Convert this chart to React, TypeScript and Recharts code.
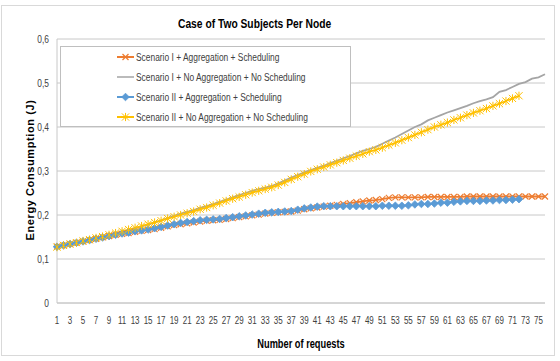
import React from "react";
import {
  LineChart,
  Line,
  XAxis,
  YAxis,
  CartesianGrid,
  Legend,
} from "recharts";

// number of requests 1..76
const requests = Array.from({ length: 76 }, (_, i) => i + 1);

const yTicks = [0, 0.1, 0.2, 0.3, 0.4, 0.5, 0.6];

const s1Agg = [
  0.128, 0.131, 0.134, 0.137, 0.14, 0.143, 0.146, 0.149, 0.152, 0.155,
  0.157, 0.159, 0.162, 0.164, 0.166, 0.168, 0.171, 0.174, 0.177, 0.179,
  0.181, 0.183, 0.185, 0.187, 0.188, 0.189, 0.191, 0.193, 0.195, 0.197,
  0.199, 0.201, 0.203, 0.205, 0.206, 0.207, 0.208, 0.21, 0.213, 0.215,
  0.217, 0.219, 0.221, 0.223, 0.225, 0.227, 0.229, 0.231, 0.233, 0.234,
  0.236, 0.239, 0.24, 0.24, 0.24, 0.24, 0.24, 0.241, 0.241, 0.241,
  0.241, 0.241, 0.241, 0.242, 0.242, 0.242, 0.242, 0.242, 0.242, 0.242,
  0.242, 0.242, 0.242, 0.242, 0.242, 0.242,
];

const s1NoAgg = [
  0.128, 0.131, 0.134, 0.137, 0.14, 0.143, 0.146, 0.149, 0.153, 0.157,
  0.161, 0.165, 0.17, 0.174, 0.178, 0.183, 0.188, 0.193, 0.198, 0.203,
  0.207, 0.211, 0.216, 0.22, 0.225, 0.23, 0.235, 0.24, 0.245, 0.25,
  0.255, 0.259, 0.262, 0.266, 0.272, 0.278, 0.285, 0.291, 0.297, 0.302,
  0.307, 0.312, 0.318, 0.323, 0.329, 0.334, 0.34, 0.346, 0.35, 0.355,
  0.362, 0.369, 0.376, 0.384, 0.392, 0.4, 0.406, 0.415, 0.421, 0.427,
  0.433, 0.438, 0.443, 0.448, 0.454, 0.459, 0.463, 0.468, 0.48, 0.484,
  0.491, 0.498, 0.502, 0.51, 0.513, 0.52,
];

const s2Agg = [
  0.128, 0.131, 0.134, 0.137, 0.14, 0.143, 0.146, 0.149, 0.152, 0.155,
  0.158, 0.16, 0.163, 0.165, 0.167, 0.17, 0.173, 0.176, 0.179, 0.182,
  0.184, 0.186, 0.188, 0.189, 0.19, 0.191, 0.193, 0.195, 0.197, 0.199,
  0.201, 0.203, 0.205, 0.206, 0.207, 0.208, 0.209, 0.212, 0.215, 0.217,
  0.219, 0.22, 0.22, 0.22, 0.22, 0.22, 0.22, 0.22, 0.22, 0.22,
  0.221, 0.221, 0.221, 0.221, 0.222, 0.224, 0.225, 0.225, 0.226, 0.228,
  0.228, 0.23, 0.231, 0.232, 0.232, 0.232, 0.233, 0.233, 0.234, 0.234,
  0.235, 0.236,
];

const s2NoAgg = [
  0.127, 0.131, 0.134, 0.137, 0.141, 0.144, 0.148, 0.151, 0.155, 0.159,
  0.163, 0.167, 0.171, 0.175, 0.179, 0.183, 0.187, 0.192, 0.196, 0.2,
  0.204, 0.208, 0.213, 0.217, 0.222, 0.227, 0.232, 0.237, 0.241, 0.246,
  0.251, 0.255, 0.259, 0.263, 0.268, 0.274, 0.281, 0.287, 0.293, 0.299,
  0.304, 0.309, 0.314, 0.319, 0.324, 0.329, 0.334, 0.339, 0.344, 0.348,
  0.353, 0.359, 0.364, 0.37, 0.376, 0.382, 0.388, 0.394, 0.4, 0.405,
  0.41, 0.416, 0.421, 0.427, 0.432, 0.437, 0.442, 0.448, 0.453, 0.459,
  0.465, 0.471,
];

const ORANGE = "#ED7D31";
const GRAY = "#A5A5A5";
const BLUE = "#5B9BD5";
const YELLOW = "#FFC000";

const data = requests.map((n, i) => ({
  n,
  s1Agg: s1Agg[i] ?? null,
  s1NoAgg: s1NoAgg[i] ?? null,
  s2Agg: s2Agg[i] ?? null,
  s2NoAgg: s2NoAgg[i] ?? null,
}));

const FONT = "'Liberation Sans', Arial, sans-serif";

function CrossMark({ x, y, color }: { x: number; y: number; color: string }) {
  const r = 3;
  return (
    <g stroke={color} strokeWidth={1.2} fill="none">
      <line x1={x - r} y1={y - r} x2={x + r} y2={y + r} />
      <line x1={x - r} y1={y + r} x2={x + r} y2={y - r} />
    </g>
  );
}

function DiamondMark({ x, y, color }: { x: number; y: number; color: string }) {
  const r = 3.8;
  return (
    <path
      d={`M${x},${y - r}L${x + r},${y}L${x},${y + r}L${x - r},${y}Z`}
      fill={color}
      stroke={color}
      strokeWidth={0.8}
    />
  );
}

function StarMark({ x, y, color }: { x: number; y: number; color: string }) {
  const r = 3.6;
  return (
    <g stroke={color} strokeWidth={1} fill="none">
      <line x1={x - r} y1={y - r} x2={x + r} y2={y + r} />
      <line x1={x - r} y1={y + r} x2={x + r} y2={y - r} />
      <line x1={x} y1={y - r - 0.5} x2={x} y2={y + r + 0.5} />
    </g>
  );
}

function makeDot(kind: string, color: string) {
  return (props: any) => {
    const { cx, cy, index } = props;
    if (cx == null || cy == null || props.value == null) return <g key={`d-${kind}-${index}`} />;
    return (
      <g key={`d-${kind}-${index}`}>
        {kind === "x" && <CrossMark x={cx} y={cy} color={color} />}
        {kind === "diamond" && <DiamondMark x={cx} y={cy} color={color} />}
        {kind === "star" && <StarMark x={cx} y={cy} color={color} />}
      </g>
    );
  };
}

// narrow-looking tick text (the original uses a condensed font)
function NarrowTick(props: any) {
  const { x, y, payload, fontSize, anchor, dy, fmt } = props;
  return (
    <g transform={`translate(${x},${y})`}>
      <text
        transform="scale(0.8,1)"
        textAnchor={anchor}
        dy={dy}
        fontSize={fontSize}
        fill="#404040"
        fontFamily={FONT}
      >
        {fmt ? fmt(payload.value) : payload.value}
      </text>
    </g>
  );
}

const legendItems = [
  { label: "Scenario I + Aggregation + Scheduling", color: ORANGE, kind: "x" },
  { label: "Scenario I + No Aggregation + No Scheduling", color: GRAY, kind: "none" },
  { label: "Scenario II + Aggregation + Scheduling", color: BLUE, kind: "diamond" },
  { label: "Scenario II + No Aggregation + No Scheduling", color: YELLOW, kind: "star" },
];

function LegendBox() {
  return (
    <div
      style={{
        width: "100%",
        height: "100%",
        boxSizing: "border-box",
        border: "1px solid #bfbfbf",
        background: "#fff",
        paddingLeft: 56,
        fontFamily: FONT,
        fontSize: 10,
        color: "#404040",
      }}
    >
      {legendItems.map((it) => (
        <div key={it.label} style={{ height: 20, display: "flex", alignItems: "center" }}>
          <svg width={17} height={10} style={{ marginRight: 2, flexShrink: 0 }}>
            <line x1={0} y1={5} x2={17} y2={5} stroke={it.color} strokeWidth={it.kind === "none" ? 1.5 : 2} />
            {it.kind === "x" && <CrossMark x={8.5} y={5} color={it.color} />}
            {it.kind === "diamond" && <DiamondMark x={8.5} y={5} color={it.color} />}
            {it.kind === "star" && <StarMark x={8.5} y={5} color={it.color} />}
          </svg>
          <span
            style={{
              display: "inline-block",
              whiteSpace: "nowrap",
              transform: "scaleX(0.84)",
              transformOrigin: "left center",
            }}
          >
            {it.label}
          </span>
        </div>
      ))}
    </div>
  );
}

const yFmt = (v: number) => String(Math.round(v * 10) / 10).replace(".", ",");

export default function App() {
  return (
    <div
      style={{
        position: "absolute",
        left: 0,
        top: 0,
        width: 560,
        height: 361,
        background: "#fff",
        fontFamily: FONT,
      }}
    >
      <div
        style={{
          position: "absolute",
          left: 1,
          top: 5,
          width: 554,
          height: 351,
          border: "1px solid #d9d9d9",
          boxSizing: "border-box",
        }}
      />
      <div
        style={{
          position: "absolute",
          left: 154,
          top: 16,
          width: 200,
          textAlign: "center",
          fontSize: 13.5,
          fontWeight: "bold",
          color: "#000",
          transform: "scaleX(0.76)",
          whiteSpace: "nowrap",
        }}
      >
        Case of Two Subjects Per Node
      </div>
      <div
        style={{
          position: "absolute",
          left: 30,
          top: 170,
          transform: "translate(-50%, -50%) rotate(-90deg)",
          whiteSpace: "nowrap",
          fontSize: 11,
          fontWeight: "bold",
          letterSpacing: 0.6,
          color: "#000",
        }}
      >
        Energy Consumption (J)
      </div>
      <div
        style={{
          position: "absolute",
          left: 201,
          top: 337,
          width: 200,
          textAlign: "center",
          fontSize: 12.5,
          fontWeight: "bold",
          color: "#000",
          transform: "scaleX(0.74)",
          whiteSpace: "nowrap",
        }}
      >
        Number of requests
      </div>
      <div style={{ position: "absolute", left: 0, top: 0 }}>
        <LineChart
          width={560}
          height={361}
          data={data}
          margin={{ top: 39, right: 15, bottom: 0, left: 0 }}
        >
          <CartesianGrid vertical={false} stroke="#c8c8c8" />
          <XAxis
            dataKey="n"
            interval={1}
            tickLine={false}
            axisLine={{ stroke: "#c8c8c8" }}
            tick={<NarrowTick fontSize={10} anchor="middle" dy="0.71em" />}
            tickMargin={8}
            height={58}
          />
          <YAxis
            domain={[0, 0.6]}
            ticks={yTicks}
            width={57}
            tickLine={false}
            axisLine={{ stroke: "#c8c8c8" }}
            tick={<NarrowTick fontSize={10.5} anchor="end" dy="0.355em" fmt={yFmt} />}
          />
          <Legend
            layout="horizontal"
            verticalAlign="middle"
            align="center"
            content={() => <LegendBox />}
            wrapperStyle={{ left: 60, top: 46, width: 291, height: 81 }}
          />
          <Line
            type="linear"
            dataKey="s1NoAgg"
            stroke={GRAY}
            strokeWidth={1.8}
            dot={false}
            isAnimationActive={false}
          />
          <Line
            type="linear"
            dataKey="s1Agg"
            stroke={ORANGE}
            strokeWidth={1.8}
            dot={makeDot("x", ORANGE)}
            isAnimationActive={false}
          />
          <Line
            type="linear"
            dataKey="s2Agg"
            stroke={BLUE}
            strokeWidth={1.8}
            dot={makeDot("diamond", BLUE)}
            isAnimationActive={false}
          />
          <Line
            type="linear"
            dataKey="s2NoAgg"
            stroke={YELLOW}
            strokeWidth={1.8}
            dot={makeDot("star", YELLOW)}
            isAnimationActive={false}
          />
        </LineChart>
      </div>
    </div>
  );
}
